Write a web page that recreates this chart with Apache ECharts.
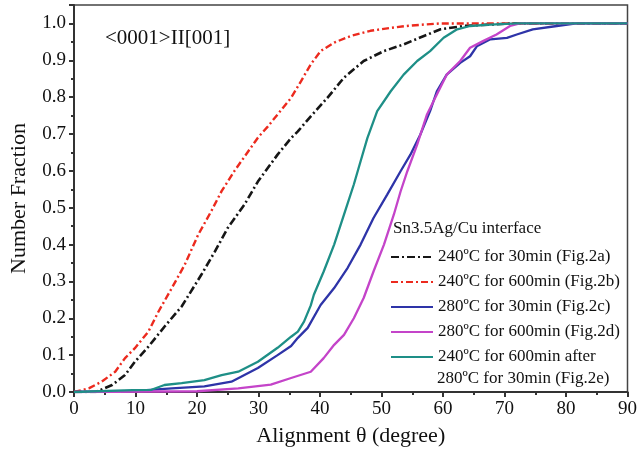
<!DOCTYPE html>
<html>
<head>
<meta charset="utf-8">
<script src="https://cdn.jsdelivr.net/npm/echarts@6/dist/echarts.min.js"></script>
<style>
  html, body { margin: 0; padding: 0; background: #fff; }
  #chart { width: 640px; height: 453px; }
</style>
</head>
<body>
<div id="chart"></div>
<script>
// Cumulative alignment distributions, <0001> || [001], Sn3.5Ag/Cu interface
const xTicks = [0, 10, 20, 30, 40, 50, 60, 70, 80, 90];
const yTicks = [0.0, 0.1, 0.2, 0.3, 0.4, 0.5, 0.6, 0.7, 0.8, 0.9, 1.0];

const names = [
  '240ºC for 30min (Fig.2a)',
  '240ºC for 600min (Fig.2b)',
  '280ºC for 30min (Fig.2c)',
  '280ºC for 600min (Fig.2d)',
  '240ºC for 600min after'
];
const lastNameLine2 = '280ºC for 30min (Fig.2e)';

// 240ºC, 30 min
const aX = [0, 3.5, 6.2, 8.3, 9.9, 12.1, 14.7, 17.5, 20.7, 22.9, 25, 27.7, 29.9, 33.1, 35.3, 36.4, 38.5, 41.2, 43.9, 47.1, 50.4, 53.6, 56.9, 59.6, 63.3, 67.7, 71, 90];
const aY = [0, 0, 0.019, 0.046, 0.082, 0.123, 0.177, 0.232, 0.318, 0.381, 0.445, 0.508, 0.571, 0.644, 0.689, 0.707, 0.748, 0.798, 0.853, 0.898, 0.925, 0.943, 0.966, 0.984, 0.993, 0.997, 1.0, 1.0];

// 240ºC, 600 min
const bX = [0, 2.4, 4.5, 6.7, 8.3, 9.9, 12.1, 13.7, 15.9, 18, 20.2, 22.3, 24, 26.1, 28, 29.9, 31.5, 33.1, 35.3, 36.9, 38.5, 40.1, 42.3, 45, 48.2, 51.5, 54, 56.9, 59.6, 90];
const bY = [0, 0.01, 0.028, 0.055, 0.092, 0.119, 0.164, 0.217, 0.282, 0.345, 0.427, 0.49, 0.545, 0.6, 0.645, 0.69, 0.72, 0.753, 0.798, 0.843, 0.889, 0.925, 0.948, 0.966, 0.98, 0.988, 0.993, 0.997, 1.0, 1.0];

// 280ºC, 30 min
const cX = [0, 10, 15.9, 21.2, 25.6, 29.9, 33.1, 35.3, 36.4, 38, 40.1, 42.3, 44.5, 46.6, 48.7, 50.9, 53.1, 54.7, 56.3, 57.9, 59, 60.6, 62.8, 64.4, 65.5, 67.7, 70.4, 72, 74.6, 78.5, 81.7, 90];
const cY = [0, 0.003, 0.01, 0.015, 0.028, 0.065, 0.1, 0.125, 0.147, 0.174, 0.236, 0.282, 0.337, 0.4, 0.472, 0.535, 0.599, 0.644, 0.698, 0.762, 0.816, 0.861, 0.893, 0.911, 0.938, 0.957, 0.961, 0.97, 0.984, 0.993, 1.0, 1.0];

// 280ºC, 600 min
const dX = [0, 20, 26.7, 32, 35.3, 38.5, 40.6, 42.3, 43.9, 45.5, 47.1, 48.7, 50.4, 52, 53.1, 54.2, 55.8, 57.4, 59, 60.6, 62.8, 64.4, 66.5, 68.7, 70.9, 72.5, 90];
const dY = [0, 0.002, 0.01, 0.02, 0.038, 0.055, 0.092, 0.128, 0.155, 0.2, 0.255, 0.327, 0.4, 0.481, 0.544, 0.599, 0.671, 0.753, 0.807, 0.861, 0.898, 0.934, 0.952, 0.97, 0.993, 1.0, 1.0];

// 240ºC, 600 min after 280ºC, 30 min
const eX = [0, 9.5, 12.6, 14.7, 17.5, 21.2, 24, 26.7, 29.9, 33.1, 35.3, 36.4, 37.4, 38.5, 39, 40.6, 42.3, 43.9, 45.5, 46.6, 47.7, 49.3, 51.5, 53.6, 55.8, 57.9, 60.1, 62.3, 64.4, 67.7, 72, 90];
const eY = [0, 0.005, 0.006, 0.019, 0.024, 0.032, 0.046, 0.055, 0.082, 0.12, 0.15, 0.164, 0.191, 0.235, 0.264, 0.327, 0.4, 0.481, 0.563, 0.626, 0.689, 0.762, 0.816, 0.861, 0.898, 0.925, 0.961, 0.984, 0.993, 0.997, 1.0, 1.0];

const colors = ['#161616', '#ec2a1e', '#2e34a8', '#c444c9', '#1e8f87'];
const dashes = [[8, 3, 2, 3], [7, 3, 2, 3], 'solid', 'solid', 'solid'];
const widths = [2.6, 2.4, 2.3, 2.3, 2.3];

function pairs(xs, ys) { return xs.map((x, i) => [x, ys[i]]); }
const seriesData = [pairs(aX, aY), pairs(bX, bY), pairs(cX, cY), pairs(dX, dY), pairs(eX, eY)];

const FONT = '"Liberation Serif", "DejaVu Serif", serif';

const chart = echarts.init(document.getElementById('chart'), null, { renderer: 'canvas' });

const axisCommon = {
  axisLine: { show: true, lineStyle: { color: '#333', width: 2 } },
  axisTick: { show: true, inside: false, length: 5, lineStyle: { color: '#333', width: 2 } },
  minorTick: { show: true, splitNumber: 2, length: 3, lineStyle: { color: '#333', width: 2 } },
  splitLine: { show: false },
  axisLabel: { color: '#111', fontFamily: FONT, fontSize: 19, margin: 8 },
  nameTextStyle: { color: '#111', fontFamily: FONT, fontSize: 22 }
};

chart.setOption({
  backgroundColor: '#fff',
  animation: false,
  grid: {
    left: 72, right: 12, top: 5, bottom: 61,
    show: true, borderColor: '#444', borderWidth: 1.5, backgroundColor: 'transparent'
  },
  xAxis: Object.assign({}, axisCommon, {
    type: 'value', min: xTicks[0], max: xTicks[xTicks.length - 1], interval: 10,
    name: 'Alignment θ (degree)', nameLocation: 'middle', nameGap: 33
  }),
  yAxis: Object.assign({}, axisCommon, {
    type: 'value', min: 0, max: 1.05, interval: 0.1,
    name: 'Number Fraction', nameLocation: 'middle', nameGap: 44,
    axisLabel: Object.assign({}, axisCommon.axisLabel, {
      showMaxLabel: false,
      formatter: v => {
        const t = yTicks.find(k => Math.abs(k - v) < 1e-6);
        return t === undefined ? '' : t.toFixed(1);
      }
    })
  }),
  legend: {
    orient: 'vertical', left: 390, top: 247, padding: 0,
    itemWidth: 42, itemHeight: 14, itemGap: 5,
    data: names,
    // line samples only, no marker in the middle
    itemStyle: { opacity: 0 },
    textStyle: { color: '#111', fontFamily: FONT, fontSize: 17, lineHeight: 20 }
  },
  graphic: [
    { type: 'text', left: 105, top: 28,
      style: { text: '<0001>II[001]', fill: '#111', font: '21px ' + FONT } },
    { type: 'text', left: 393, top: 220,
      style: { text: 'Sn3.5Ag/Cu interface', fill: '#111', font: '17px ' + FONT } },
    { type: 'text', left: 437, top: 370,
      style: { text: lastNameLine2, fill: '#111', font: '17px ' + FONT } }
  ],
  series: seriesData.map((d, i) => ({
    name: names[i],
    type: 'line',
    data: d,
    symbol: 'none',
    clip: true,
    lineStyle: { color: colors[i], width: widths[i], type: dashes[i] },
    itemStyle: { color: colors[i] },
    z: 2 + i
  }))
});
</script>
</body>
</html>
